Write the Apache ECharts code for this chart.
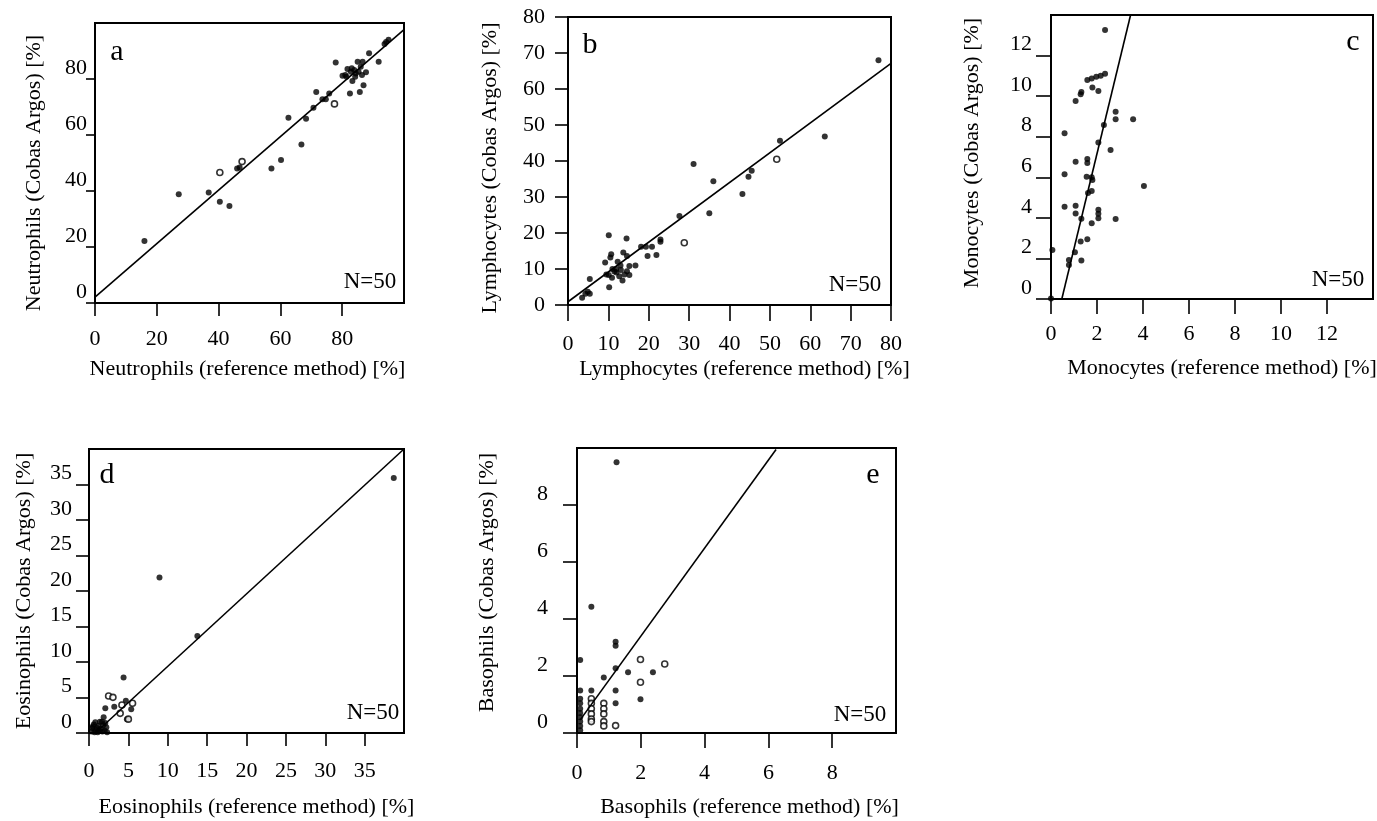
<!DOCTYPE html>
<html>
<head>
<meta charset="utf-8">
<script src="https://cdn.jsdelivr.net/npm/echarts@6/dist/echarts.min.js"></script>
<style>
html, body { margin: 0; padding: 0; background: #fff; }
#chartDom { width: 1377px; height: 821px; }
</style>
</head>
<body>
<div id="chartDom"></div>
<script>
// values: [reference method, Cobas Argos]
var neutroFilled = [
	[16.0, 22.1], [27.1, 38.8], [36.8, 39.5], [40.4, 36.2], [43.5, 34.6], [46.0, 48.0], [46.8, 48.4],
	[57.1, 48.0], [60.2, 51.1], [62.6, 66.2], [66.8, 56.6], [68.3, 65.8], [70.7, 69.7], [71.6, 75.4],
	[73.6, 72.8], [74.7, 72.8], [75.8, 74.8], [77.9, 85.9], [80.1, 81.2], [81.0, 81.4], [81.7, 83.6],
	[82.5, 74.8], [82.8, 82.6], [83.3, 79.3], [83.9, 83.2], [84.4, 82.0], [85.0, 86.2], [85.7, 75.4],
	[86.0, 84.4], [86.6, 86.2], [86.9, 77.8], [87.7, 82.4], [88.7, 89.2], [91.8, 86.2], [94.2, 93.2],
	[95.0, 94.0], [81.4, 80.8], [83.1, 83.8], [84.2, 80.8], [85.3, 82.6], [86.4, 81.4], [93.7, 92.5]
];
var neutroOpen = [[40.4, 46.6], [47.6, 50.5], [77.5, 71.1]];
var neutroFit = [[0, 2.1], [100, 97.6]];

var lymphoFilled = [
	[3.5, 2.0], [4.3, 3.1], [4.9, 3.7], [5.4, 3.1], [5.4, 7.2], [10.1, 19.4], [9.2, 11.8], [10.2, 4.9],
	[10.1, 8.3], [10.5, 13.2], [10.7, 14.1], [10.9, 7.6], [11.5, 9.3], [11.9, 10.0], [12.3, 12.0],
	[12.7, 8.0], [13.1, 9.7], [13.7, 14.6], [13.5, 6.8], [14.5, 18.5], [14.6, 13.6], [14.6, 9.4],
	[15.2, 8.3], [15.2, 10.8], [16.7, 11.0], [18.1, 16.2], [19.3, 16.2], [19.7, 13.6], [20.8, 16.2],
	[21.9, 13.9], [22.9, 17.6], [22.9, 18.2], [27.6, 24.7], [35.0, 25.5], [36.0, 34.4], [43.2, 30.8],
	[44.7, 35.6], [45.5, 37.3], [52.5, 45.6], [63.6, 46.8], [76.9, 68.0], [31.1, 39.2], [12.0, 9.0],
	[13.0, 11.0], [11.0, 10.0], [14.0, 8.5], [9.5, 8.5]
];
var lymphoOpen = [[28.8, 17.3], [51.7, 40.5]];
var lymphoFit = [[0, 0.9], [80, 67.1]];

var monoFilled = [
	[2.35, 13.26], [1.58, 10.79], [1.77, 10.87], [1.97, 10.95], [2.16, 11.0], [2.35, 11.1], [1.29, 10.09],
	[1.32, 10.2], [1.80, 10.42], [2.06, 10.25], [1.07, 9.76], [2.81, 9.23], [2.81, 8.86], [3.57, 8.86],
	[2.30, 8.58], [0.59, 8.17], [2.06, 7.72], [2.59, 7.34], [1.07, 6.77], [1.58, 6.9], [1.58, 6.7],
	[0.59, 6.15], [1.55, 6.03], [1.77, 6.0], [1.80, 5.87], [4.04, 5.57], [1.77, 5.32], [1.61, 5.22],
	[0.59, 4.55], [1.07, 4.6], [1.07, 4.22], [2.06, 4.4], [2.06, 3.98], [1.32, 3.95], [1.77, 3.73],
	[2.81, 3.94], [1.29, 2.83], [1.58, 2.94], [0.06, 2.41], [1.04, 2.31], [0.78, 1.92], [0.78, 1.68],
	[1.32, 1.9], [0.0, 0.03], [2.06, 4.2]
];
var monoOpen = [];
var monoFit = [[0.47, 0], [3.46, 14]];

var eosinoFilled = [
	[38.7, 35.9], [8.95, 21.9], [13.76, 13.66], [4.39, 7.8], [2.07, 3.47], [3.21, 3.7], [4.68, 4.55],
	[5.36, 3.33], [4.81, 1.93], [1.86, 2.21], [1.65, 1.6], [2.07, 1.4],
	[0.4, 0.7], [0.6, 1.2], [0.9, 0.4], [1.2, 1.0], [1.5, 0.6], [1.8, 1.1], [2.0, 0.3], [0.3, 0.2],
	[0.8, 1.5], [1.1, 0.1], [1.4, 1.6], [1.7, 0.2], [2.2, 0.8], [0.5, 0.9], [1.0, 0.7], [1.3, 0.3],
	[2.3, 0.1], [0.7, 0.1]
];
var eosinoOpen = [[2.49, 5.21], [3.04, 5.02], [4.18, 3.94], [5.53, 4.18], [5.0, 1.95], [3.96, 2.77]];
var eosinoFit = [[0.8, 0], [40, 40]];

var basoFilled = [
	[1.24, 9.5], [0.45, 4.43], [1.21, 3.2], [1.21, 3.06], [0.1, 2.56], [1.21, 2.27], [1.60, 2.13],
	[2.38, 2.13], [0.84, 1.95], [0.1, 1.49], [0.45, 1.49], [1.21, 1.49], [1.99, 1.18], [1.21, 1.04],
	[0.1, 1.2], [0.1, 1.04], [0.1, 0.85], [0.1, 0.7], [0.1, 0.55], [0.1, 0.4], [0.1, 0.25], [0.1, 0.1]
];
var basoOpen = [
	[1.99, 2.58], [2.75, 2.42], [1.99, 1.78], [0.45, 1.2], [0.45, 1.04], [0.45, 0.85], [0.45, 0.67],
	[0.45, 0.49], [0.45, 0.4], [0.84, 1.04], [0.84, 0.85], [0.84, 0.67], [0.84, 0.4], [0.84, 0.25],
	[1.21, 0.26]
];
var basoFit = [[0.1, 0.46], [6.24, 9.95]];

var panelLetters = ['a', 'b', 'c', 'd', 'e'];
var countLabel = 'N=50';

var serif = '"Liberation Serif", "DejaVu Serif", serif';

// shift = nudge of the axis title along the axis, in px
var panels = [
	{
		grid: { left: 95, top: 23, width: 309, height: 280 },
		x: { max: 100, step: 20, offset: 7, tick: 13, margin: 18, hideMax: true, name: 'Neutrophils (reference method) [%]', gap: 48, shift: -2 },
		y: { max: 100, step: 20, offset: 4, tick: 9, margin: 4, raised: true, hideMax: true, name: 'Neutrophils (Cobas Argos) [%]', gap: 46, shift: -10 },
		filled: neutroFilled, open: neutroOpen, fit: neutroFit,
		letter: [117, 52], count: [370, 282]
	},
	{
		grid: { left: 568, top: 17, width: 323, height: 288 },
		x: { max: 80, step: 10, offset: 7, tick: 16, margin: 21, hideMax: false, name: 'Lymphocytes (reference method) [%]', gap: 46, shift: 15 },
		y: { max: 80, step: 10, offset: 5, tick: 13, margin: 18, raised: false, hideMax: false, name: 'Lymphocytes (Cobas Argos) [%]', gap: 62, shift: -7 },
		filled: lymphoFilled, open: lymphoOpen, fit: lymphoFit,
		letter: [590, 45], count: [855, 285]
	},
	{
		grid: { left: 1051, top: 15, width: 322, height: 284 },
		x: { max: 14, step: 2, offset: 6, tick: 15, margin: 18, hideMax: true, name: 'Monocytes (reference method) [%]', gap: 52, shift: 10 },
		y: { max: 14, step: 2, offset: 4, tick: 15, margin: 15, raised: true, hideMax: true, name: 'Monocytes (Cobas Argos) [%]', gap: 64, shift: 4 },
		filled: monoFilled, open: monoOpen, fit: monoFit,
		letter: [1353, 42], count: [1338, 280]
	},
	{
		grid: { left: 89, top: 449, width: 315, height: 284 },
		x: { max: 40, step: 5, offset: 7, tick: 13, margin: 20, hideMax: true, name: 'Eosinophils (reference method) [%]', gap: 56, shift: 10 },
		y: { max: 40, step: 5, offset: 4, tick: 13, margin: 13, raised: true, hideMax: true, name: 'Eosinophils (Cobas Argos) [%]', gap: 50, shift: 0 },
		filled: eosinoFilled, open: eosinoOpen, fit: eosinoFit,
		letter: [107, 475], count: [373, 713]
	},
	{
		grid: { left: 577, top: 448, width: 319, height: 285 },
		x: { max: 10, step: 2, offset: 7, tick: 15, margin: 22, hideMax: true, name: 'Basophils (reference method) [%]', gap: 56, shift: 13 },
		y: { max: 10, step: 2, offset: 5, tick: 14, margin: 24, raised: true, hideMax: true, name: 'Basophils (Cobas Argos) [%]', gap: 74, shift: 8 },
		filled: basoFilled, open: basoOpen, fit: basoFit,
		letter: [873, 475], count: [860, 715]
	}
];

function makeAxis(cfg, i, isY) {
	// padding on one side of a centered name moves it along the axis
	var s = Math.abs(cfg.shift) * 2;
	var pad = cfg.shift > 0 ? [0, 0, 0, s] : [0, s, 0, 0];
	return {
		type: 'value',
		gridIndex: i,
		min: 0,
		max: cfg.max,
		interval: cfg.step,
		offset: cfg.offset,
		splitLine: { show: false },
		axisLine: { show: false },
		axisTick: { show: true, inside: false, length: cfg.tick, lineStyle: { color: '#000', width: 1.6 } },
		axisLabel: {
			show: true,
			margin: cfg.margin,
			color: '#000',
			fontFamily: serif,
			fontSize: 22,
			showMaxLabel: !cfg.hideMax,
			showMinLabel: true,
			verticalAlign: isY && cfg.raised ? 'bottom' : null
		},
		name: cfg.name,
		nameLocation: 'middle',
		nameGap: cfg.gap,
		nameTextStyle: { color: '#000', fontFamily: serif, fontSize: 22, padding: pad }
	};
}

var dom = document.getElementById('chartDom');
var myChart = echarts.init(dom, null, { renderer: 'canvas' });

var grids = [], xAxes = [], yAxes = [], series = [], texts = [];

panels.forEach(function(p, i) {
	grids.push({
		left: p.grid.left, top: p.grid.top, width: p.grid.width, height: p.grid.height,
		show: true, borderColor: '#000', borderWidth: 2, backgroundColor: 'transparent',
		containLabel: false, outerBoundsMode: 'none'
	});
	xAxes.push(makeAxis(p.x, i, false));
	yAxes.push(makeAxis(p.y, i, true));

	series.push({
		type: 'line', xAxisIndex: i, yAxisIndex: i,
		data: p.fit, symbol: 'none', silent: true,
		lineStyle: { color: '#000', width: 1.6 }
	});
	series.push({
		type: 'scatter', xAxisIndex: i, yAxisIndex: i,
		data: p.filled, symbol: 'circle', symbolSize: 6,
		itemStyle: { color: '#000' }
	});
	series.push({
		type: 'scatter', xAxisIndex: i, yAxisIndex: i,
		data: p.open, symbol: 'circle', symbolSize: 6,
		itemStyle: { color: '#fff', borderColor: '#000', borderWidth: 1.6 }
	});

	texts.push({
		type: 'text', x: p.letter[0], y: p.letter[1],
		style: { text: panelLetters[i], font: '30px ' + serif, fill: '#000', align: 'center', verticalAlign: 'middle' }
	});
	texts.push({
		type: 'text', x: p.count[0], y: p.count[1],
		style: { text: countLabel, font: '23px ' + serif, fill: '#000', align: 'center', verticalAlign: 'middle' }
	});
});

option = {
	backgroundColor: '#fff',
	animation: false,
	grid: grids,
	xAxis: xAxes,
	yAxis: yAxes,
	series: series,
	graphic: texts
};
myChart.setOption(option, true);
</script>
</body>
</html>
